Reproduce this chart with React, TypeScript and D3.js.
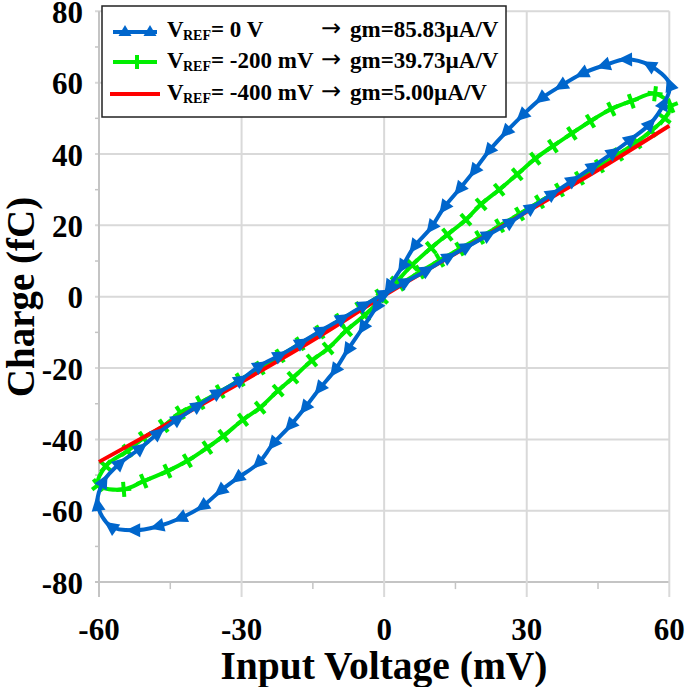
import React from 'react';
import * as d3 from 'd3';

const W = 685;
const H = 687;

const xTicks = [-60, -30, 0, 30, 60];
const xMinorTicks = [-45, -15, 15, 45];
const yTicks = [-80, -60, -40, -20, 0, 20, 40, 60, 80];
const yMinorTicks = [-70, -50, -30, -10, 10, 30, 50, 70];

// VREF = 0 V (closed loop, in traversal order)
const blueV = [50.8, 46.2, 41.6, 37.2, 33.0, 29.0, 25.6, 22.0, 18.9, 15.8, 12.6, 9.9, 6.3, 3.8, 1.0, -1.7,
  -4.5, -7.7, -10.4, -13.6, -16.7, -19.8, -23.4, -26.5, -30.9, -34.5, -38.3, -42.9, -47.7, -52.7, -57.5, -60.3,
  -59.0, -55.5, -51.2, -47.5, -43.3, -39.1, -34.9, -30.1, -26.1, -21.9, -17.3, -13.1, -8.7, -4.1, 0.2, 4.6,
  9.1, 13.7, 17.5, 22.0, 26.7, 31.1, 35.5, 39.8, 44.1, 48.3, 52.0, 56.0, 58.9, 60.1, 55.8];
const blueQ = [66.5, 64.8, 62.5, 59.1, 55.5, 50.7, 46.1, 40.8, 35.2, 30.1, 25.0, 19.4, 14.0, 8.4, 2.7, -3.0,
  -8.7, -15.0, -20.7, -25.8, -31.2, -36.2, -41.3, -46.7, -50.9, -54.5, -58.8, -62.1, -64.4, -65.5, -64.4, -58.2,
  -51.7, -46.6, -42.4, -38.2, -34.2, -30.5, -26.9, -23.2, -19.3, -16.4, -12.8, -9.4, -6.0, -2.3, 0.9, 4.2,
  7.5, 11.2, 14.0, 17.4, 21.0, 25.0, 28.9, 32.7, 36.6, 40.5, 44.2, 48.5, 54.2, 59.5, 64.9];

// VREF = -200 mV (closed loop)
const greenV = [57.0, 52.0, 47.8, 43.4, 39.5, 35.5, 31.8, 28.0, 24.2, 20.4, 17.2, 13.3, 9.9, 5.9, 2.6, -0.4,
  -4.1, -7.9, -11.8, -15.2, -19.2, -22.3, -26.1, -29.7, -33.8, -37.2, -41.4, -45.6, -50.6, -54.8, -60.2,
  -58.6, -54.0, -50.6, -46.4, -42.9, -38.7, -34.5, -30.3, -26.1, -21.9, -17.7, -13.5, -9.3, -5.1, -0.9,
  3.3, 7.5, 11.7, 15.9, 20.1, 24.3, 28.5, 32.7, 36.9, 41.1, 45.3, 49.3, 53.1, 56.2, 59.0, 60.3];
const greenQ = [56.9, 54.8, 52.6, 49.2, 45.8, 42.2, 38.7, 34.3, 30.0, 25.9, 21.6, 17.4, 13.7, 8.9, 4.1, -0.4,
  -5.2, -9.4, -14.5, -17.9, -22.7, -26.3, -31.1, -34.5, -39.0, -42.3, -46.0, -48.9, -51.7, -54.0, -52.8,
  -47.5, -43.2, -39.6, -36.2, -32.5, -29.7, -26.6, -23.3, -20.0, -16.6, -13.2, -9.9, -6.6, -3.3, 0.2,
  3.5, 6.9, 10.2, 13.4, 16.6, 19.9, 23.2, 26.6, 29.9, 33.2, 36.6, 39.9, 43.3, 46.5, 50.0, 53.5];

// VREF = -400 mV (nearly linear)
const redV = [-60, -45, -30, -15, 0, 15, 30, 45, 60];
const redQ = [-46.3, -35.2, -23.9, -12.2, 0.3, 12.1, 23.8, 35.5, 47.9];

const legendNames = ['= 0 V', '= -200 mV', '= -400 mV'];
const legendGm = ['gm=85.83\u00B5A/V', 'gm=39.73\u00B5A/V', 'gm=5.00\u00B5A/V'];

const BLUE = '#0066cc';
const GREEN = '#00ee00';
const RED = '#ff0000';
const GRID = '#d9d9d9';
const AXIS = '#c4c4c4';
const FONT = "'Liberation Serif', 'Times New Roman', serif";

function angles(pts: [number, number][]) {
  const n = pts.length;
  return pts.map((_, i) => {
    const a = pts[(i - 1 + n) % n];
    const b = pts[(i + 1) % n];
    return (Math.atan2(b[1] - a[1], b[0] - a[0]) * 180) / Math.PI;
  });
}

const TRI = 'M8,0 L-6.5,-7 L-6.5,7 Z';

export default function App() {
  const x = d3.scaleLinear().domain([-60, 60]).range([99, 669.3]);
  const y = d3.scaleLinear().domain([-80, 80]).range([582.1, 11.3]);

  const bluePts: [number, number][] = blueV.map((v, i) => [x(v), y(blueQ[i])]);
  const greenPts: [number, number][] = greenV.map((v, i) => [x(v), y(greenQ[i])]);
  const redPts: [number, number][] = redV.map((v, i) => [x(v), y(redQ[i])]);

  const closed = d3.line().curve(d3.curveCatmullRomClosed.alpha(0.5));
  const open = d3.line().curve(d3.curveCatmullRom.alpha(0.5));

  const blueAng = angles(bluePts);
  const greenAng = angles(greenPts);

  const [x0, x1] = x.range();
  const [y0, y1] = y.range();

  return (
    <svg width={W} height={H} style={{ position: 'absolute', left: 0, top: 0, background: '#fff' }} fontFamily={FONT}>
      <rect x={0} y={0} width={W} height={H} fill="#fff" />
      {/* gridlines */}
      {yTicks.map((t) => (
        <line key={'gy' + t} x1={x0 - 4} x2={x1} y1={y(t)} y2={y(t)} stroke={t === -80 ? AXIS : GRID} strokeWidth={2} />
      ))}
      {xTicks.map((t) => (
        <line key={'gx' + t} x1={x(t)} x2={x(t)} y1={y1} y2={y0 + 15} stroke={t === -60 ? AXIS : GRID} strokeWidth={2} />
      ))}
      {yMinorTicks.map((t) => (
        <line key={'my' + t} x1={x0 - 4} x2={x0} y1={y(t)} y2={y(t)} stroke={AXIS} strokeWidth={1.5} />
      ))}
      {xMinorTicks.map((t) => (
        <line key={'mx' + t} x1={x(t)} x2={x(t)} y1={y0} y2={y0 + 7} stroke={AXIS} strokeWidth={1.5} />
      ))}

      {/* series */}
      <path d={closed(greenPts) || ''} fill="none" stroke={GREEN} strokeWidth={4} />
      {greenPts.map((p, i) => (
        <g key={'gm' + i} transform={`translate(${p[0]},${p[1]}) rotate(${greenAng[i]})`}>
          <rect x={-7.5} y={-2} width={15} height={4} fill={GREEN} />
          <rect x={-2} y={-7.5} width={4} height={15} fill={GREEN} />
        </g>
      ))}
      <path d={open(redPts) || ''} fill="none" stroke={RED} strokeWidth={4} />
      <path d={closed(bluePts) || ''} fill="none" stroke={BLUE} strokeWidth={4} />
      {bluePts.map((p, i) => (
        <path key={'bm' + i} d={TRI} fill={BLUE} transform={`translate(${p[0]},${p[1]}) rotate(${blueAng[i]})`} />
      ))}

      {/* tick labels */}
      {yTicks.map((t) => (
        <text key={'ly' + t} x={83} y={y(t) + 11.5} textAnchor="end" fontSize={31} fontWeight="bold" fill="#000">
          {t}
        </text>
      ))}
      {xTicks.map((t) => (
        <text key={'lx' + t} x={x(t)} y={640} textAnchor="middle" fontSize={31} fontWeight="bold" fill="#000">
          {t}
        </text>
      ))}

      {/* axis titles */}
      <text x={384} y={679} textAnchor="middle" fontSize={39.5} fontWeight="bold" fill="#000">
        Input Voltage (mV)
      </text>
      <text transform={`translate(34,297) rotate(-90)`} textAnchor="middle" fontSize={39} fontWeight="bold" fill="#000">
        Charge (fC)
      </text>

      {/* legend */}
      <rect x={102} y={6} width={404} height={111} fill="#fff" stroke="#222" strokeWidth={1.5} />
      <line x1={113} x2={157} y1={32} y2={32} stroke={BLUE} strokeWidth={4} />
      {[125, 150].map((cx) => (
        <path key={'lt' + cx} d="M0,-6 L6.5,5 L-6.5,5 Z" fill={BLUE} transform={`translate(${cx},31)`} />
      ))}
      <line x1={113} x2={157} y1={62} y2={62} stroke={GREEN} strokeWidth={4} />
      <rect x={130} y={60} width={14} height={4} fill={GREEN} />
      <rect x={135} y={55} width={4} height={14} fill={GREEN} />
      <line x1={110} x2={160} y1={94} y2={94} stroke={RED} strokeWidth={4} />
      {legendNames.map((name, i) => {
        const by = [37, 68, 100][i];
        return (
          <g key={'lg' + i} fontWeight="bold" fill="#000">
            <text x={167} y={by} fontSize={23}>V</text>
            <text x={183} y={by + 3} fontSize={14}>REF</text>
            <text x={211} y={by} fontSize={23}>{name}</text>
            <text x={321} y={by - 1} fontSize={24} fontFamily="'DejaVu Sans', sans-serif" fontWeight="normal">{'\u2192'}</text>
            <text x={350} y={by} fontSize={23}>{legendGm[i]}</text>
          </g>
        );
      })}
    </svg>
  );
}
